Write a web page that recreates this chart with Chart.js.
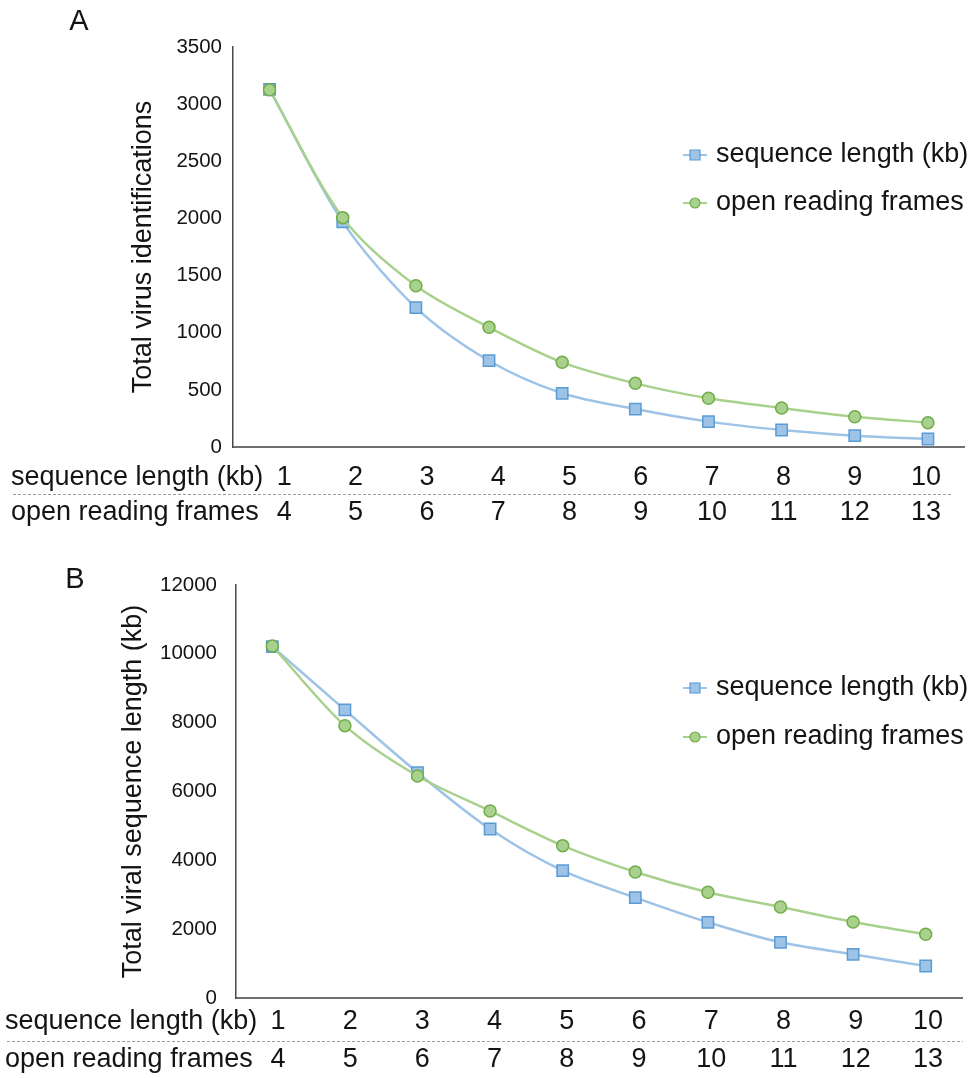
<!DOCTYPE html>
<html>
<head>
<meta charset="utf-8">
<script src="https://cdn.jsdelivr.net/npm/chart.js@4.4.1/dist/chart.umd.min.js"></script>
<style>
    html, body { margin: 0; padding: 0; background: #fff; }
    canvas { position: absolute; left: 0; }
    #chartA { top: 0; }
    #chartB { top: 540px; }
</style>
</head>
<body>
<canvas id="chartA" width="974" height="540"></canvas>
<canvas id="chartB" width="974" height="538"></canvas>
<script>
// x categories: two label rows share one position
const seqLengthLabels = ['1', '2', '3', '4', '5', '6', '7', '8', '9', '10'];
const orfLabels = ['4', '5', '6', '7', '8', '9', '10', '11', '12', '13'];
const rowTitles = ['sequence length (kb)', 'open reading frames'];
const seriesNames = ['sequence length (kb)', 'open reading frames'];

// Panel A - total virus identifications
const idsBySeqLength = [3130, 1970, 1220, 755, 470, 332, 222, 149, 99, 70];
const idsByOrf = [3125, 2007, 1411, 1047, 741, 557, 426, 341, 265, 213];

// Panel B - total viral sequence length (kb)
const lengthBySeqLength = [10210, 8370, 6550, 4910, 3700, 2916, 2199, 1618, 1269, 930];
const lengthByOrf = [10230, 7913, 6451, 5434, 4427, 3662, 3071, 2644, 2209, 1851];

const FONT = "'Liberation Sans', Arial, sans-serif";
const TEXT = '#141414';
const LABEL_SIZE = 27;

const BLUE_LINE = '#9dc3e6';
const BLUE_FILL = '#9dc3e6';
const BLUE_EDGE = '#5b9bd5';
const GREEN_LINE = '#a9d18e';
const GREEN_FILL = '#a9d18e';
const GREEN_EDGE = '#70ad47';

Chart.defaults.font.family = FONT;
Chart.defaults.color = TEXT;

// letter, row titles, dashed separator and legend
const panelDecor = {
    id: 'panelDecor',
    afterDraw(chart, args, opts) {
        const ctx = chart.ctx;
        const area = chart.chartArea;
        ctx.save();
        ctx.fillStyle = TEXT;
        ctx.textBaseline = 'middle';

        ctx.font = '29px ' + FONT;
        ctx.textAlign = 'center';
        ctx.fillText(opts.letter, opts.letterX, opts.letterY);

        ctx.font = LABEL_SIZE + 'px ' + FONT;
        ctx.textAlign = 'left';
        ctx.fillText(rowTitles[0], opts.rowX, area.bottom + opts.row1);
        ctx.fillText(rowTitles[1], opts.rowX, area.bottom + opts.row2);

        ctx.strokeStyle = '#9a9a9a';
        ctx.lineWidth = 1;
        ctx.setLineDash([3, 2]);
        ctx.beginPath();
        ctx.moveTo(opts.rowX + 2, area.bottom + opts.dash + 0.5);
        ctx.lineTo(opts.dashEnd, area.bottom + opts.dash + 0.5);
        ctx.stroke();
        ctx.setLineDash([]);

        // legend: short line with the marker on it
        chart.data.datasets.forEach(function(ds, i) {
            const y = opts.legendY + i * opts.legendGap;
            const x = opts.legendX;
            ctx.strokeStyle = ds.borderColor;
            ctx.lineWidth = 2;
            ctx.beginPath();
            ctx.moveTo(x - 12, y);
            ctx.lineTo(x + 12, y);
            ctx.stroke();
            ctx.fillStyle = ds.pointBackgroundColor;
            ctx.strokeStyle = ds.pointBorderColor;
            ctx.lineWidth = 1.2;
            ctx.beginPath();
            if (ds.pointStyle === 'rect') {
                ctx.rect(x - 5, y - 5, 10, 10);
            } else {
                ctx.arc(x, y, 5, 0, Math.PI * 2);
            }
            ctx.fill();
            ctx.stroke();
            ctx.fillStyle = TEXT;
            ctx.fillText(ds.label, x + 21, y);
        });
        ctx.restore();
    }
};

function initPanel(canvasId, seqValues, orfValues, p) {
    const ctx = document.getElementById(canvasId).getContext('2d');

    return new Chart(ctx, {
        type: 'line',
        data: {
            labels: seqLengthLabels,
            datasets: [{
                label: seriesNames[0],
                data: seqValues,
                order: 1,
                borderColor: BLUE_LINE,
                borderWidth: 2.5,
                tension: 0.3,
                pointStyle: 'rect',
                pointRadius: 8,
                pointBackgroundColor: BLUE_FILL,
                pointBorderColor: BLUE_EDGE,
                pointBorderWidth: 1.5
            }, {
                label: seriesNames[1],
                data: orfValues,
                order: 0,
                borderColor: GREEN_LINE,
                borderWidth: 2.5,
                tension: 0.3,
                pointStyle: 'circle',
                pointRadius: 6,
                pointBackgroundColor: GREEN_FILL,
                pointBorderColor: GREEN_EDGE,
                pointBorderWidth: 1.5
            }]
        },
        options: {
            responsive: false,
            animation: false,
            layout: {
                padding: { top: p.padTop, right: p.padRight, left: 0, bottom: 0 }
            },
            scales: {
                x: {
                    offset: true,
                    weight: 0,
                    grid: { display: false, drawTicks: false },
                    border: { display: true, color: '#707070', width: 2 },
                    ticks: { display: false },
                    afterFit: function(scale) { scale.height = 0; }
                },
                // the label table under the plot sits a little off the points
                xTable: {
                    type: 'linear',
                    position: 'bottom',
                    weight: 1,
                    min: p.tableMin,
                    max: p.tableMax,
                    grid: { display: false, drawTicks: false },
                    border: { display: false },
                    afterBuildTicks: function(scale) {
                        scale.ticks = seqLengthLabels.map(function(_, i) { return { value: i }; });
                    },
                    ticks: {
                        padding: p.xTickPad,
                        maxRotation: 0,
                        autoSkip: false,
                        font: { size: LABEL_SIZE, lineHeight: p.xLineHeight },
                        callback: function(value) {
                            return [seqLengthLabels[value], orfLabels[value]];
                        }
                    },
                    afterFit: function(scale) { scale.height = p.xHeight; }
                },
                y: {
                    min: 0,
                    max: p.yMax,
                    grid: { display: false, drawTicks: false },
                    border: { display: true, color: '#4a4a4a', width: 1.5 },
                    ticks: {
                        stepSize: p.yStep,
                        padding: p.yTickPad,
                        font: { size: 20.5 },
                        callback: function(value) { return String(value); }
                    },
                    title: {
                        display: true,
                        text: p.yTitle,
                        font: { size: LABEL_SIZE, lineHeight: 1.2 },
                        padding: { top: p.yTitlePad, bottom: 0 }
                    },
                    afterFit: function(scale) { scale.width = p.yWidth; }
                }
            },
            plugins: {
                legend: { display: false },
                tooltip: { enabled: false },
                panelDecor: p.decor
            }
        },
        plugins: [panelDecor]
    });
}

initPanel('chartA', idsBySeqLength, idsByOrf, {
    padTop: 47, padRight: 0,
    yMax: 3500, yStep: 500, yWidth: 233, yTickPad: 11, yTitlePad: 127,
    yTitle: 'Total virus identifications',
    tableMin: -0.72, tableMax: 9.54,
    xHeight: 93, xTickPad: 12.5, xLineHeight: 1.315,
    decor: {
        letter: 'A', letterX: 79, letterY: 22,
        rowX: 11, row1: 30.5, row2: 66, dash: 47, dashEnd: 952,
        legendX: 695, legendY: 155, legendGap: 48
    }
});

initPanel('chartB', lengthBySeqLength, lengthByOrf, {
    padTop: 45, padRight: 12,
    yMax: 12000, yStep: 2000, yWidth: 236, yTickPad: 19, yTitlePad: 117,
    yTitle: 'Total viral sequence length (kb)',
    tableMin: -0.58, tableMax: 9.47,
    xHeight: 80, xTickPad: 5, xLineHeight: 1.4,
    decor: {
        letter: 'B', letterX: 75, letterY: 40,
        rowX: 5, row1: 24, row2: 62, dash: 43, dashEnd: 963,
        legendX: 695, legendY: 148, legendGap: 49
    }
});
</script>
</body>
</html>
